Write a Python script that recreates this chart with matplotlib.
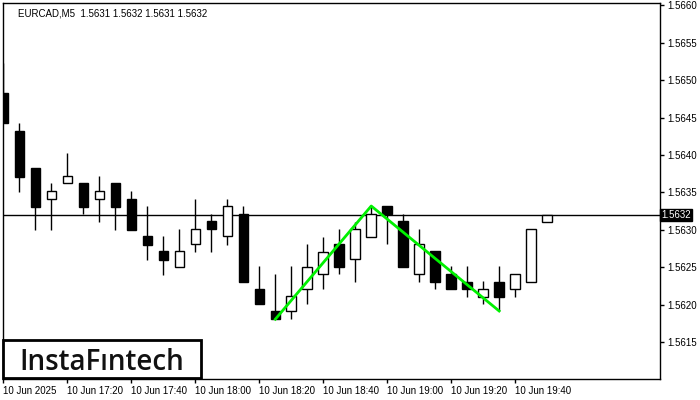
import matplotlib.pyplot as plt
from matplotlib.patches import Rectangle

# EURCAD M5 candles, 10 Jun 2025 17:00 .. 19:50
opens = [1.56483, 1.56432, 1.56383, 1.56341, 1.56363, 1.56363, 1.56341, 1.56363,
         1.56341, 1.56292, 1.56272, 1.56251, 1.56281, 1.56312, 1.56292, 1.56321,
         1.56221, 1.56192, 1.56192, 1.56221, 1.56241, 1.56281, 1.56261, 1.56291,
         1.56332, 1.56312, 1.56241, 1.56272, 1.56241, 1.56231, 1.56211, 1.56231,
         1.56221, 1.56231, 1.56310]
highs = [1.56523, 1.56443, 1.56383, 1.56363, 1.56403, 1.56363, 1.56372, 1.56363,
         1.56352, 1.56332, 1.56292, 1.56301, 1.56341, 1.56321, 1.56341, 1.56332,
         1.56252, 1.56241, 1.56252, 1.56281, 1.56291, 1.56301, 1.56311, 1.56332,
         1.56332, 1.56321, 1.56301, 1.56272, 1.56252, 1.56252, 1.56232, 1.56252,
         1.56241, 1.56301, 1.56320]
lows = [1.56443, 1.56351, 1.56300, 1.56300, 1.56363, 1.56321, 1.56311, 1.56300,
        1.56300, 1.56260, 1.56240, 1.56251, 1.56271, 1.56271, 1.56280, 1.56231,
        1.56201, 1.56181, 1.56181, 1.56201, 1.56221, 1.56241, 1.56231, 1.56291,
        1.56281, 1.56251, 1.56231, 1.56221, 1.56221, 1.56211, 1.56201, 1.56192,
        1.56211, 1.56231, 1.56310]
closes = [1.56443, 1.56371, 1.56331, 1.56352, 1.56372, 1.56331, 1.56352, 1.56331,
          1.56300, 1.56280, 1.56260, 1.56272, 1.56301, 1.56301, 1.56332, 1.56231,
          1.56201, 1.56181, 1.56212, 1.56251, 1.56271, 1.56251, 1.56301, 1.56321,
          1.56321, 1.56251, 1.56281, 1.56231, 1.56221, 1.56221, 1.56221, 1.56211,
          1.56241, 1.56301, 1.56320]

time_labels = ["10 Jun 2025", "10 Jun 17:20", "10 Jun 17:40", "10 Jun 18:00",
               "10 Jun 18:20", "10 Jun 18:40", "10 Jun 19:00", "10 Jun 19:20",
               "10 Jun 19:40"]
price_ticks = [1.5615, 1.5620, 1.5625, 1.5630, 1.5635, 1.5640, 1.5645, 1.5650, 1.5655, 1.5660]
current_price = 1.5632

# double top pattern: low, top, low (candle index, price)
pattern_idx = [17, 23, 31]
pattern_px = [lows[17], highs[23], lows[31]]

plt.rcParams['font.family'] = ['Liberation Sans', 'DejaVu Sans']

fig = plt.figure(figsize=(7, 4), dpi=100)
ax = fig.add_axes([3 / 700, 21 / 400, 657 / 700, 376 / 400])

n = len(opens)
xs = list(range(n))
ax.vlines(xs, lows, highs, color="black", lw=1, zorder=2)
for i in xs:
    o, c = opens[i], closes[i]
    h = c - o
    if abs(h) < 1e-6:
        h = 0.000002
    face = "white" if c >= o else "black"
    ax.bar(i, h, bottom=o, width=0.6, color=face, edgecolor="black", lw=1, zorder=3)

ax.axhline(current_price, color="black", lw=1, zorder=2.5)
ax.plot(pattern_idx, pattern_px, color="#00f000", lw=2, zorder=4)

ax.set_xlim(-0.03, 41.06)
ax.set_ylim(1.561013, 1.566027)

ax.yaxis.tick_right()
ax.set_yticks(price_ticks)
ax.set_yticklabels([f"{p:.4f}" for p in price_ticks])
ax.tick_params(axis="y", direction="out", length=3, width=1, pad=2, labelsize=7)
ax.set_xticks(xs[::4][:len(time_labels)])
ax.set_xticklabels(time_labels, ha="left")
ax.tick_params(axis="x", direction="out", length=3, width=1, pad=2, labelsize=7)
for s in ax.spines.values():
    s.set_linewidth(1)

ax.text(1.002, current_price, "1.5632", transform=ax.get_yaxis_transform(),
        ha="left", va="center", fontsize=7, color="white",
        bbox=dict(boxstyle="square,pad=0.15", fc="black", ec="black"))

ax.text(15 / 657, 1 - 11 / 376, "EURCAD,M5  1.5631 1.5632 1.5631 1.5632",
        transform=ax.transAxes, ha="left", va="center", fontsize=7)

ax.add_patch(Rectangle((0, 1 / 376), 198 / 657, 38 / 376, transform=ax.transAxes,
                       fill=True, fc="white", ec="black", lw=2, zorder=5, clip_on=False))
ax.text(99 / 657, 9 / 376, "InstaFıntech", transform=ax.transAxes, ha="center",
        va="baseline", fontsize=20, fontweight="semibold",
        family=["Open Sans", "DejaVu Sans"], color="#111111", zorder=6)

plt.savefig("out.png", dpi=100)
